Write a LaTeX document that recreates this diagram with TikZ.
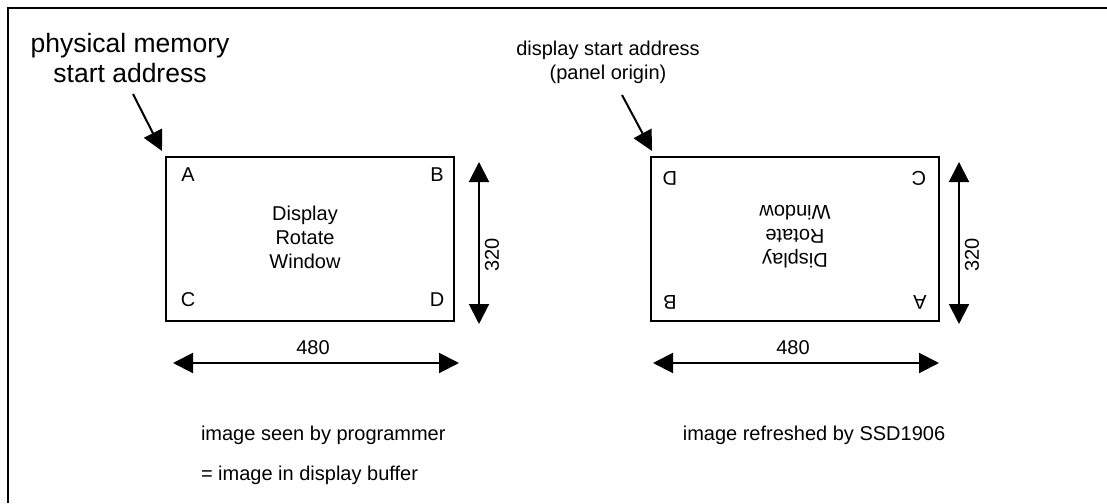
\documentclass[tikz,border=0pt]{standalone}
\usepackage{fontspec}
\setmainfont{Liberation Sans}
\usetikzlibrary{arrows.meta,positioning}
\tikzset{every picture/.style={line width=2pt}}

\begin{document}
\begin{tikzpicture}[x=1pt,y=-1pt,
    txt/.style={font=\fontsize{20}{24}\selectfont,inner sep=0pt,align=center},
    bigtxt/.style={font=\fontsize{26.5}{30}\selectfont,inner sep=0pt,align=center},
    win/.style={draw,minimum width=288pt,minimum height=164pt,inner sep=0pt},
    tip/.style={Triangle[length=20pt,width=20pt]},
    dimarrow/.style={{Triangle[length=20pt,width=20pt]}-{Triangle[length=20pt,width=20pt]}},
    ptrarrow/.style={-{Triangle[length=20pt,width=20pt]}}]
    \useasboundingbox (0,0) rectangle (1107,503);
    \draw (8,503) -- (8,8) -- (1107,8);
    % left: image seen by programmer
    \node[win] (winL) at (310,239) {};
    \node[txt] (textL) at (305,237) {Display\\Rotate\\Window};
    \node[txt] (aL) at (188,175) {A};
    \node[txt] (bL) at (437,175) {B};
    \node[txt] (cL) at (188,300) {C};
    \node[txt] (dL) at (437,300) {D};
    \coordinate (hL1) at (173,363); \coordinate (hL2) at (459,363);
    \coordinate (vL1) at (479,162); \coordinate (vL2) at (479,324);
    \draw[dimarrow] (hL1) -- (hL2);
    \draw[dimarrow] (vL1) -- (vL2);
    \node[txt] (wL) at (313,348) {480};
    \node[txt,rotate=90] (hgtL) at (492,255) {320};
    \node[bigtxt] (physL) at (130,58) {physical memory\\start address};
    \coordinate (pL1) at (133,94); \coordinate (pL2) at (162,151);
    \draw[ptrarrow] (pL1) -- (pL2);
    \node[txt,anchor=west] (seenL) at (200,435) {image seen by programmer};
    \node[txt,anchor=west] (bufL) at (200,475) {= image in display buffer};
    % right: image refreshed by the controller
    \node[win] (winR) at (795,239) {};
    \node[txt,rotate=180] (textR) at (795,237) {Display\\Rotate\\Window};
    \node[txt,rotate=180] (dR) at (670,178) {D};
    \node[txt,rotate=180] (cR) at (919,178) {C};
    \node[txt,rotate=180] (bR) at (670,302) {B};
    \node[txt,rotate=180] (aR) at (920,302) {A};
    \coordinate (hR1) at (653,363); \coordinate (hR2) at (939,363);
    \coordinate (vR1) at (959,162); \coordinate (vR2) at (959,324);
    \draw[dimarrow] (hR1) -- (hR2);
    \draw[dimarrow] (vR1) -- (vR2);
    \node[txt] (wR) at (793,348) {480};
    \node[txt,rotate=90] (hgtR) at (972,255) {320};
    \node[txt] (startR) at (608,62) {display start address\\(panel origin)};
    \coordinate (pR1) at (622,95); \coordinate (pR2) at (652,151);
    \draw[ptrarrow] (pR1) -- (pR2);
    \node[txt] (refR) at (814,435) {image refreshed by SSD1906};
\end{tikzpicture}
\end{document}
